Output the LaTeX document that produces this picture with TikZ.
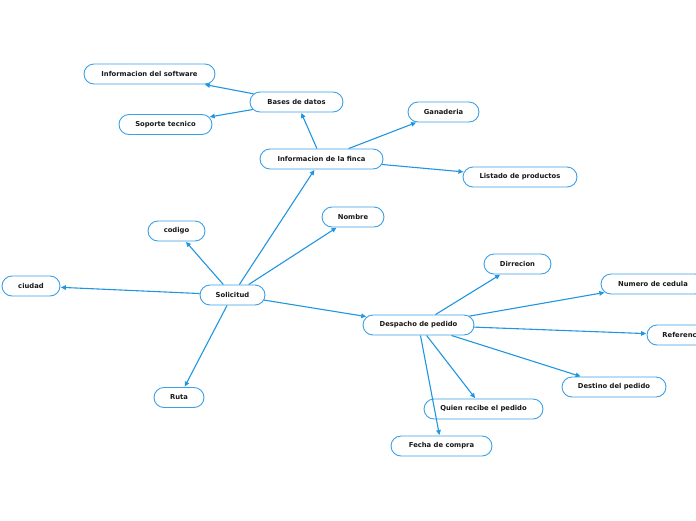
\documentclass[tikz,border=0pt]{standalone}
\usepackage{fontspec}
\setmainfont{DejaVu Sans}
\usetikzlibrary{shapes.misc,arrows.meta}
\definecolor{lineblue}{HTML}{2196E0}
\definecolor{boxblue}{HTML}{3BA0E6}
\tikzset{
  topic/.style={rounded rectangle, draw=boxblue, line width=0.9pt, fill=white,
    minimum height=20pt, inner sep=0pt, font=\fontsize{6.8}{8}\selectfont\bfseries, text=black!90},
  link/.style={draw=lineblue, line width=1.1pt, -{Triangle[length=5pt,width=4.5pt]}, shorten >=0.5pt}
}
\begin{document}
\begin{tikzpicture}[x=1pt,y=-1pt]
\useasboundingbox (0,0) rectangle (696,520);
\clip (0,0) rectangle (696,520);
\node[topic, minimum width=131pt] (sw) at (149.5,74) {Informacion del software};
\node[topic, minimum width=93pt] (bd) at (296.5,102) {Bases de datos};
\node[topic, minimum width=93pt] (st) at (165.5,124.5) {Soporte tecnico};
\node[topic, minimum width=71pt] (gan) at (443.5,112) {Ganaderia};
\node[topic, minimum width=123pt] (fin) at (321.5,159) {Informacion de la finca};
\node[topic, minimum width=114pt] (lis) at (520,177) {Listado de productos};
\node[topic, minimum width=57pt] (cod) at (176.5,231) {codigo};
\node[topic, minimum width=62pt] (nom) at (353,217) {Nombre};
\node[topic, minimum width=58pt] (ciu) at (31,286) {ciudad};
\node[topic, minimum width=65pt] (sol) at (232.5,295) {Solicitud};
\node[topic, minimum width=67pt] (dir) at (517.5,264) {Dirrecion};
\node[topic, minimum width=104pt] (ced) at (653,284) {Numero de cedula};
\node[topic, minimum width=72pt] (ref) at (683,335) {Referencia};
\node[topic, minimum width=111pt] (des) at (418.5,325) {Despacho de pedido};
\node[topic, minimum width=104pt] (dst) at (614,387) {Destino del pedido};
\node[topic, minimum width=119pt] (qui) at (483.5,409) {Quien recibe el pedido};
\node[topic, minimum width=101pt] (fec) at (441.5,446) {Fecha de compra};
\node[topic, minimum width=50pt] (rut) at (179,397.5) {Ruta};
\draw[link] (sol) -- (fin);
\draw[link] (sol) -- (cod);
\draw[link] (sol) -- (nom);
\draw[link] (sol) -- (ciu);
\draw[link] (sol) -- (des);
\draw[link] (sol) -- (rut);
\draw[link] (fin) -- (bd);
\draw[link] (fin) -- (gan);
\draw[link] (fin) -- (lis);
\draw[link] (bd) -- (sw);
\draw[link] (bd) -- (st);
\draw[link] (des) -- (dir);
\draw[link] (des) -- (ced);
\draw[link] (des) -- (ref);
\draw[link] (des) -- (dst);
\draw[link] (des) -- (qui);
\draw[link] (des) -- (fec);
\end{tikzpicture}
\end{document}
